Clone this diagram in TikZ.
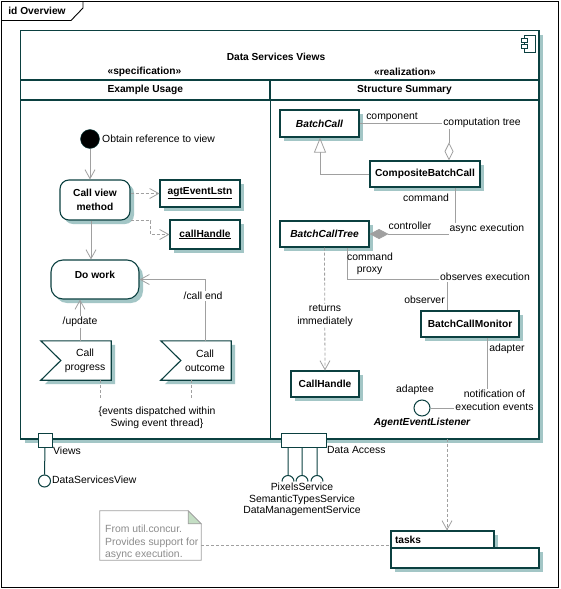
\documentclass[tikz,border=0pt]{standalone}
\usepackage{fontspec}
\setmainfont{Liberation Sans}
\usetikzlibrary{arrows.meta,shadows,calc}
\definecolor{tealc}{HTML}{0B4040}
\definecolor{shadowc}{HTML}{A3C6C6}
\definecolor{linec}{HTML}{A0A0A0}
\definecolor{notec}{HTML}{8C8C8C}
\definecolor{foldc}{HTML}{C4DEC4}
\begin{document}
\begin{tikzpicture}[x=1pt,y=-1pt,
  font=\fontsize{10.4}{12.5}\selectfont,
  shad/.style={drop shadow={shadow xshift=4pt,shadow yshift=-4pt,opacity=1,fill=shadowc}},
  box/.style={draw=tealc,line width=1.1pt,fill=white,shad,inner sep=0pt,align=center,font=\fontsize{10.2}{12.5}\selectfont\bfseries},
  bi/.style={font=\fontsize{10.2}{12.5}\selectfont\bfseries\itshape},
  bold/.style={font=\fontsize{10.2}{12.5}\selectfont\bfseries},
  hdr/.style={draw=tealc,line width=1.1pt,inner sep=0pt,font=\fontsize{10.2}{12.5}\selectfont\bfseries},
  sig/.style={draw=tealc,line width=1.1pt,fill=white,shad},
  conn/.style={draw=linec,line width=0.8pt},
  openarr/.style={-{Straight Barb[length=9pt,width=10pt]}},
  dep/.style={conn,dash pattern=on 3pt off 2pt},
  lbl/.style={inner sep=1pt},
  wlbl/.style={fill=white,inner sep=1pt},
  portc/.style={draw=tealc,line width=1pt},
]
\useasboundingbox (0,0) rectangle (560,589);
% frame
\draw[black,line width=0.9pt] (1,1) rectangle (558,587.5);
\draw[black,line width=0.9pt] (1,20.5) -- (71,20.5) -- (83,8) -- (83,1);
\node[bold] (fr) at (37,11) {id Overview};

% component
\node[box,minimum width=518.5pt,minimum height=408.5pt] (comp) at (279.75,234.75) {};
\draw[draw=tealc,line width=0.8pt,fill=white] (524.5,35) rectangle (535,52);
\draw[draw=tealc,line width=0.8pt,fill=white] (521,38.5) rectangle (527.5,42.5);
\draw[draw=tealc,line width=0.8pt,fill=white] (521,44.5) rectangle (527.5,48.5);
\node[bold] (title) at (276,57) {Data Services Views};
\node[bold] (spec) at (144.5,72) {«specification»};
\node[bold] (real) at (405,72) {«realization»};
\node[hdr,minimum width=249.5pt,minimum height=20pt] (lh) at (145.25,90) {Example Usage};
\node[hdr,minimum width=269pt,minimum height=20pt] (rh) at (404.5,90) {Structure Summary};
\draw[draw=tealc,line width=1.1pt] (lh.south east) -- (lh.south east |- comp.south);

% left panel
\node[circle,draw=tealc,fill=black,minimum size=19pt,inner sep=0pt] (init) at (90,139) {};
\node[lbl,anchor=west] (initl) at (101,139) {Obtain reference to view};
\node[box,rounded corners=9pt,minimum width=70pt,minimum height=40pt,font=\fontsize{10.2}{14}\selectfont\bfseries] (cvm) at (95,200) {Call view\\method};
\node[box,minimum width=80pt,minimum height=27pt] (agt) at (200,193.5) {\underline{agtEventLstn}};
\node[box,minimum width=70pt,minimum height=29pt] (ch) at (205,234.5) {\underline{callHandle}};
\node[box,rounded corners=12pt,minimum width=88pt,minimum height=39pt] (dw) at (95,279.5) {};
\node[lbl,bold] (dwl) at (95,275) {Do work};

\node[minimum width=70pt,minimum height=39pt,inner sep=0pt] (prog) at (76,360.5) {};
\path[sig] (prog.north west) -- (prog.north east) -- (prog.south east) -- (prog.south west) -- ([xshift=20pt]prog.west) -- cycle;
\node[align=center,font=\fontsize{10.4}{14}\selectfont] (progt) at (85,360.5) {Call\\progress};
\node[minimum width=70pt,minimum height=39pt,inner sep=0pt] (outc) at (196,360.5) {};
\path[sig] (outc.north west) -- (outc.north east) -- (outc.south east) -- (outc.south west) -- ([xshift=20pt]outc.west) -- cycle;
\node[align=center,font=\fontsize{10.4}{14}\selectfont] (outt) at (205,360.5) {Call\\outcome};

\draw[conn,openarr] (init.south) -- (init.south |- cvm.north);
\draw[conn,openarr] ([xshift=-4pt]cvm.south) -- ([xshift=-4pt]cvm.south |- dw.north);
\draw[dep,openarr] (cvm.east |- agt.west) -- (agt.west);
\draw[dep,openarr] (cvm.south east) -- ++(20,0) |- (ch.west);
\draw[conn,openarr] ([xshift=4pt]prog.north) -- ([xshift=4pt]prog.north |- dw.south);
\node[wlbl] (upd) at (80,322) {/update};
\draw[conn,openarr] ([xshift=9pt]outc.north) |- (dw.east);
\node[wlbl] (cend) at (203,296) {/call end};
\node[lbl,align=center] (cons) at (157,418) {\{events dispatched within\\Swing event thread\}};
\coordinate (consT) at (157,399);
\draw[dep] ([xshift=24pt]prog.south) -- ([xshift=24pt]prog.south |- consT);
\draw[dep] ([xshift=-5pt]outc.south) -- ([xshift=-5pt]outc.south |- consT);

% right panel
\node[box,bi,minimum width=79pt,minimum height=27pt] (bc) at (319.5,123.5) {BatchCall};
\node[box,minimum width=110pt,minimum height=26pt] (cbc) at (425,174) {CompositeBatchCall};
\node[box,bi,minimum width=89pt,minimum height=26pt] (bct) at (324.5,234) {BatchCallTree};
\node[box,minimum width=68pt,minimum height=26pt] (chd) at (325,384) {CallHandle};
\node[box,minimum width=98pt,minimum height=26pt] (bcm) at (470,324) {BatchCallMonitor};
\node[circle,draw=tealc,line width=1pt,fill=white,minimum size=16pt,inner sep=0pt] (ael) at (422,408) {};

\draw[conn,-{Triangle[open,length=15pt,width=12pt]}] (cbc.west) -| ([xshift=0.5pt]bc.south);
\draw[conn,{Diamond[open,length=18pt,width=9pt]}-] ([xshift=24pt]cbc.north) |- (bc.east);
\node[lbl] (lcomp) at (392,117) {component};
\node[wlbl] (lctree) at (482,123) {computation tree};
\draw[conn,-{Diamond[length=19pt,width=10pt]}] ([xshift=30pt]cbc.south) |- (bct.east);
\node[lbl] (lcmd1) at (426,198) {command};
\node[wlbl] (lasync) at (487,229) {async execution};
\node[lbl] (lctrl) at (410,226) {controller};
\draw[dep,openarr] (bct.south) -- (chd.north);
\node[wlbl,align=center,font=\fontsize{10.4}{13}\selectfont] (lret) at (325,315.5) {returns\\immediately};
\coordinate (obsc) at (447,279);
\draw[conn] ([xshift=22.5pt]bct.south) |- (obsc) -- ([xshift=-23pt]bcm.north);
\node[lbl] (lcmd2) at (370,257) {command};
\node[lbl] (lproxy) at (369.5,271) {proxy};
\node[wlbl] (lobs) at (485,277) {observes execution};
\node[lbl] (lobsr) at (424.5,300) {observer};
\draw[conn] ([xshift=17pt]bcm.south) |- (ael.east);
\node[lbl] (ladapter) at (507,349) {adapter};
\node[lbl] (ladaptee) at (415,390) {adaptee};
\node[wlbl,align=center,font=\fontsize{10.4}{13}\selectfont] (lnot) at (494.5,400.5) {notification of\\execution events};
\node[lbl,bi] (lael) at (422,423) {AgentEventListener};

% ports
\node[draw=tealc,line width=1pt,fill=white,minimum size=14pt,inner sep=0pt] (pv) at (45,440) {};
\node[circle,draw=tealc,line width=1pt,fill=white,minimum size=12pt,inner sep=0pt] (dsv) at (44.5,481) {};
\draw[portc] (pv.south) -- (dsv.north);
\node[lbl,anchor=west] (lviews) at (52,451) {Views};
\node[lbl,anchor=west] (ldsv) at (51,480) {DataServicesView};

\node[draw=tealc,line width=1pt,fill=white,minimum width=45pt,minimum height=14pt,inner sep=0pt] (pd) at (303.5,440) {};
\foreach \dx in {-15.5,-1.5,13.5} {
  \draw[portc] ([xshift=\dx pt]pd.south) -- ++(0,28) ++(-6,6) arc[start angle=180,end angle=360,radius=6];
}
\node[lbl,anchor=west] (lda) at (326,450) {Data Access};
\node[lbl,align=center,font=\fontsize{10.4}{11.5}\selectfont] (svc) at (302,499.5) {PixelsService\\SemanticTypesService\\DataManagementService};

% tasks package
\node[box,minimum width=103pt,minimum height=17pt,text width=95pt,align=left,inner xsep=4pt] (tt) at (442.5,539.5) {tasks};
\node[box,minimum width=148pt,minimum height=20pt] (tb) at (465,558) {};
\coordinate (cb) at (447,439);
\draw[dep,openarr] (cb) -- (cb |- tt.north);

% note
\node[minimum width=101pt,minimum height=49pt,inner sep=0pt] (nt) at (150.5,535.5) {};
\path[draw=linec,line width=0.8pt,fill=white] (nt.north west) -- ([xshift=-13pt]nt.north east) -- ([yshift=-13pt]nt.north east) -- (nt.south east) -- (nt.south west) -- cycle;
\path[draw=linec,line width=0.8pt,fill=foldc] ([xshift=-13pt]nt.north east) -- ([xshift=-13pt,yshift=-13pt]nt.north east) -- ([yshift=-13pt]nt.north east) -- cycle;
\node[anchor=west,align=left,text=notec,inner sep=0pt] (ntt) at (105,542.5) {From util.concur.\\Provides support for\\async execution.};
\draw[dep] ([yshift=-9.5pt]nt.east) -- ([yshift=-9.5pt]nt.east -| tt.west);
\end{tikzpicture}
\end{document}
